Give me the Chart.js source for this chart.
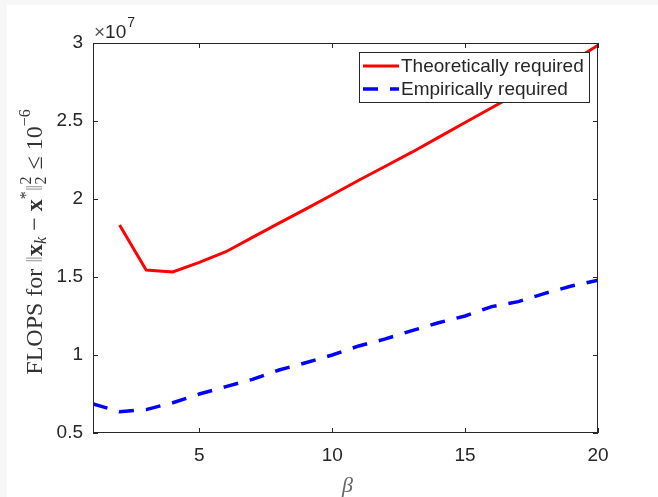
<!DOCTYPE html>
<html><head><meta charset="utf-8">
<script src="https://cdn.jsdelivr.net/npm/chart.js@4.4.0/dist/chart.umd.min.js"></script>
<style>
html,body{margin:0;padding:0;background:#f7f7f7;overflow:hidden;}
#wrap{position:absolute;left:7px;top:5px;width:651px;height:492px;background:#fff;}
#c{position:absolute;left:0;top:0;width:658px;height:497px;}
</style></head><body>
<div id="wrap"></div>
<canvas id="c" width="658" height="497"></canvas>
<script>
// ---- data (values in units of 1e7 FLOPS) ----
const beta = [1,2,3,4,5,6,7,8,9,10,11,12,13,14,15,16,17,18,19,20];
const theoretical = [null,1.833,1.545,1.532,1.594,1.662,1.754,1.845,1.935,2.027,2.12,2.21,2.30,2.395,2.49,2.585,2.68,2.78,2.88,2.985];
const empirical = [0.686,0.637,0.650,0.694,0.750,0.797,0.844,0.904,0.950,1.0,1.058,1.103,1.156,1.207,1.25,1.31,1.342,1.395,1.442,1.48];
const xTicks = [5,10,15,20];
const yTicks = [0.5,1,1.5,2,2.5,3];
const seriesNames = ['Theoretically required','Empirically required'];

const AXC = '#262626';
const SANS = '"Liberation Sans", Arial, Helvetica, sans-serif';
const TICKFONT = {family:SANS, size:19};

const toPts = (ys) => beta.map((b,i)=>({x:b,y:ys[i]}));

const frame = {
  id:'frame',
  afterDatasetsDraw(chart){
    const {ctx, chartArea:a, scales:{x,y}} = chart;
    ctx.save();
    ctx.strokeStyle = AXC; ctx.lineWidth = 1;
    ctx.strokeRect(a.left+0.5, a.top+0.5, a.right-a.left-1, a.bottom-a.top-1);
    const L = 5;
    ctx.beginPath();
    xTicks.forEach(v=>{
      const px = Math.round(x.getPixelForValue(v))+0.5;
      ctx.moveTo(px,a.bottom); ctx.lineTo(px,a.bottom-L);
      ctx.moveTo(px,a.top); ctx.lineTo(px,a.top+L);
    });
    yTicks.forEach(v=>{
      const py = Math.round(y.getPixelForValue(v))+0.5;
      ctx.moveTo(a.left,py); ctx.lineTo(a.left+L,py);
      ctx.moveTo(a.right,py); ctx.lineTo(a.right-L,py);
    });
    ctx.stroke();

    // exponent label
    ctx.textBaseline = 'alphabetic';
    ctx.textAlign = 'left';
    ctx.font = `19px ${SANS}`;
    ctx.fillStyle = '#555';
    ctx.fillText('\u00d7', a.left+1, a.top-5);
    const wx = ctx.measureText('\u00d7').width;
    ctx.fillStyle = AXC;
    ctx.fillText('10', a.left+1+wx, a.top-5);
    const w10 = ctx.measureText('10').width;
    ctx.font = `14px ${SANS}`;
    ctx.fillText('7', a.left+2+wx+w10, a.top-16);

    // legend
    const lx = 359, ly = 52, lw = 230, lh = 50;
    ctx.fillStyle = '#fff';
    ctx.fillRect(lx, ly, lw, lh);
    ctx.strokeStyle = AXC;
    ctx.strokeRect(lx+0.5, ly+0.5, lw, lh);
    chart.data.datasets.forEach((ds,i)=>{
      const cy = ly + 14 + i*23;
      ctx.save();
      ctx.strokeStyle = ds.borderColor; ctx.lineWidth = ds.borderWidth;
      ctx.setLineDash(ds.borderDash || []);
      ctx.beginPath(); ctx.moveTo(363, cy); ctx.lineTo(399, cy); ctx.stroke();
      ctx.restore();
      ctx.fillStyle = AXC;
      ctx.font = `19px ${SANS}`;
      ctx.textBaseline = 'middle';
      ctx.fillText(ds.label, 401, cy+1);
    });

    // x label
    ctx.font = 'italic 22px "Liberation Serif", "Times New Roman", serif';
    ctx.fillStyle = '#666';
    ctx.textAlign = 'center';
    ctx.textBaseline = 'alphabetic';
    ctx.fillText('\u03b2', (a.left+a.right)/2 + 2, 492);

    // y label (rotated, rich text)
    const S = 24, s = 16;
    const serif = '"Liberation Serif", "Times New Roman", serif';
    const segs = [
      {t:'FLOPS for ', f:`${S}px ${serif}`},
      {t:'\u2016', f:`${S}px ${serif}`, c:'#aaa'},
      {t:'x', f:`bold ${S}px ${serif}`},
      {t:'k', f:`italic ${s}px ${serif}`, dy:6},
      {t:' \u2212 ', f:`${S}px ${serif}`},
      {t:'x', f:`bold ${S}px ${serif}`},
      {t:'*', f:`${s}px ${serif}`, dy:-9},
      {t:'\u2016', f:`${S}px ${serif}`, c:'#aaa'},
      {t:'2', f:`${s}px ${serif}`, dy:-9, stack:'2', sdy:6},
      {t:' \u2264 ', f:`${S}px ${serif}`},
      {t:'10', f:`${S}px ${serif}`},
      {t:'\u22126', f:`${s}px ${serif}`, dy:-10},
    ];
    let total = 0;
    segs.forEach(g=>{ ctx.font = g.f; g.w = ctx.measureText(g.t).width; total += g.w + (g.stack?1:0); });
    ctx.save();
    ctx.translate(35, 242);
    ctx.rotate(-Math.PI/2);
    ctx.textAlign = 'left';
    ctx.textBaseline = 'middle';
    let cx = -total/2;
    segs.forEach(g=>{
      ctx.font = g.f;
      ctx.fillStyle = g.c || '#333';
      ctx.fillText(g.t, cx, (g.dy||0)+1);
      if (g.stack) ctx.fillText(g.stack, cx, g.sdy+1);
      cx += g.w + (g.stack?1:0);
    });
    ctx.restore();
    ctx.restore();
  }
};

new Chart(document.getElementById('c'), {
  type:'line',
  data:{
    datasets:[
      {label:seriesNames[0], data:toPts(theoretical), borderColor:'#ff0000', borderWidth:3,
       pointRadius:0, fill:false, tension:0, spanGaps:false},
      {label:seriesNames[1], data:toPts(empirical), borderColor:'#0000ff', borderWidth:3.5,
       borderDash:[15,12], borderCapStyle:'butt', pointRadius:0, fill:false, tension:0}
    ]
  },
  options:{
    responsive:false, animation:false,
    layout:{padding:{left:0, right:60, top:43, bottom:0}},
    plugins:{legend:{display:false}, tooltip:{enabled:false}},
    scales:{
      x:{type:'linear', min:1, max:20,
         afterBuildTicks:(sc)=>{sc.ticks = xTicks.map(v=>({value:v}));},
         afterFit:(sc)=>{sc.height = 64;},
         grid:{display:false, drawTicks:false}, border:{display:false},
         ticks:{font:TICKFONT, color:AXC, padding:11, maxRotation:0, callback:(v)=>String(v)}},
      y:{type:'linear', min:0.5, max:3,
         afterBuildTicks:(sc)=>{sc.ticks = yTicks.map(v=>({value:v}));},
         afterFit:(sc)=>{sc.width = 93;},
         grid:{display:false, drawTicks:false}, border:{display:false},
         ticks:{font:TICKFONT, color:AXC, padding:10, callback:(v)=>String(v)}}
    }
  },
  plugins:[frame]
});
</script>
</body></html>
